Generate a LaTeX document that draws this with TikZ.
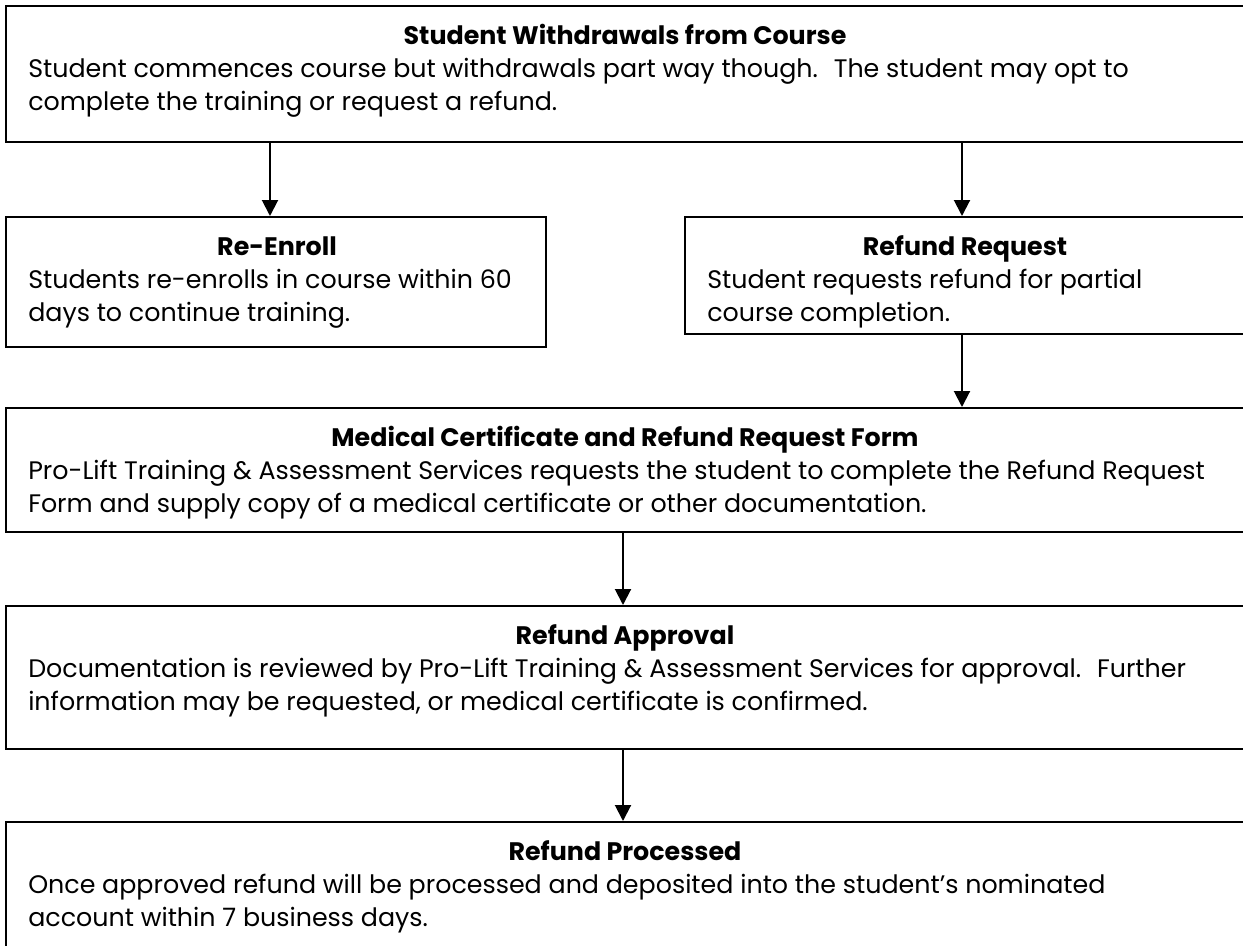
\documentclass[tikz,border=0pt]{standalone}
\usepackage{fontspec}
\setmainfont{Poppins}
\usetikzlibrary{arrows.meta,fit}
\tikzset{
  box/.style={draw=black, line width=1.5pt, inner sep=0pt},
  ttl/.style={font=\fontsize{19}{22}\selectfont\bfseries, anchor=base, inner sep=0pt},
  bdy/.style={font=\fontsize{19}{22}\selectfont, anchor=base west, inner sep=0pt},
  arr/.style={line width=1.5pt, -{Triangle[width=12pt,length=12pt]}}
}
\begin{document}
\begin{tikzpicture}[x=0.75pt,y=-0.75pt]
\useasboundingbox (0,0) rectangle (1243,946);
\clip (0,0) rectangle (1243,946);
% boxes
\node[box, fit={(6,6) (1250,142)}] (b1) {};
\node[box, fit={(6,217) (546,347)}] (re) {};
\node[box, fit={(685,217) (1250,334)}] (rr) {};
\node[box, fit={(6,408) (1250,532)}] (med) {};
\node[box, fit={(6,606) (1250,749)}] (appr) {};
\node[box, fit={(6,822) (1250,970)}] (proc) {};
% texts
\node[ttl] (b1t) at (625,44) {Student Withdrawals from Course};
\node[bdy] (b1a) at (28,77) {Student commences course but withdrawals part way though.~ The student may opt to};
\node[bdy] (b1b) at (28,110) {complete the training or request a refund.};
\node[ttl] (ret) at (277,255) {Re-Enroll};
\node[bdy] (rea) at (28,288) {Students re-enrolls in course within 60};
\node[bdy] (reb) at (28,321) {days to continue training.};
\node[ttl] (rrt) at (965,255) {Refund Request};
\node[bdy] (rra) at (707,288) {Student requests refund for partial};
\node[bdy] (rrb) at (707,321) {course completion.};
\node[ttl] (medt) at (625,446) {Medical Certificate and Refund Request Form};
\node[bdy] (meda) at (28,479) {Pro-Lift Training \& Assessment Services requests the student to complete the Refund Request};
\node[bdy] (medb) at (28,512) {Form and supply copy of a medical certificate or other documentation.};
\node[ttl] (apprt) at (625,644) {Refund Approval};
\node[bdy] (appra) at (28,677) {Documentation is reviewed by Pro-Lift Training \& Assessment Services for approval.~ Further};
\node[bdy] (apprb) at (28,710) {information may be requested, or medical certificate is confirmed.};
\node[ttl] (proct) at (625,860) {Refund Processed};
\node[bdy] (proca) at (28,893) {Once approved refund will be processed and deposited into the student’s nominated};
\node[bdy] (procb) at (28,926) {account within 7 business days.};
% arrows
\coordinate (xl) at (270,0);
\coordinate (xr) at (962,0);
\coordinate (xc) at (623,0);
\draw[arr] (xl |- b1.south) -- (xl |- re.north);
\draw[arr] (xr |- b1.south) -- (xr |- rr.north);
\draw[arr] (xr |- rr.south) -- (xr |- med.north);
\draw[arr] (xc |- med.south) -- (xc |- appr.north);
\draw[arr] (xc |- appr.south) -- (xc |- proc.north);
\end{tikzpicture}
\end{document}
